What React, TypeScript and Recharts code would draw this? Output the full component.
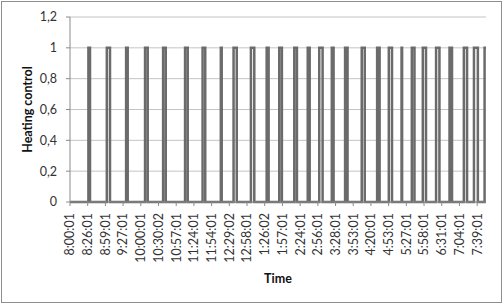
import React from 'react';
import { LineChart, Line, XAxis, YAxis, CartesianGrid, Label } from 'recharts';

// tick labels on the category axis (one every N samples)
const timeLabels = [
  '8:00:01', '8:26:01', '8:59:01', '9:27:01', '10:00:01', '10:30:02', '10:57:01', '11:24:01',
  '11:54:01', '12:29:02', '12:58:01', '1:26:02', '1:57:01', '2:24:01', '2:56:01', '3:28:01',
  '3:53:01', '4:20:01', '4:53:01', '5:27:01', '5:58:01', '6:31:01', '7:04:01', '7:39:01',
];

// heater ON periods, in label-index units along the time axis
const pulseStart = [
  1.04, 2.08, 3.17, 4.24, 5.26, 6.5, 7.49, 8.52, 9.24, 10.22, 11.11, 11.82, 12.67, 13.43,
  14.08, 14.79, 15.54, 16.48, 17.35, 18.01, 18.73, 19.31, 19.93, 20.68, 21.44, 22.25, 22.82, 23.42,
];
const pulseEnd = [
  1.13, 2.26, 3.26, 4.39, 5.41, 6.65, 7.64, 8.57, 9.42, 10.41, 11.22, 11.97, 12.82, 13.54,
  14.27, 14.89, 15.68, 16.65, 17.49, 18.19, 18.76, 19.46, 20.11, 20.87, 21.58, 22.43, 23.04, 23.5,
];
const axisEnd = 23.5;
const yTicks = [0, 0.2, 0.4, 0.6, 0.8, 1, 1.2];

const series: { t: number; v: number }[] = [{ t: 0, v: 0 }];
pulseStart.forEach((s, i) => {
  series.push({ t: s, v: 0 }, { t: s, v: 1 }, { t: pulseEnd[i], v: 1 });
  if (pulseEnd[i] < axisEnd) series.push({ t: pulseEnd[i], v: 0 });
});
if (pulseEnd[pulseEnd.length - 1] < axisEnd) series.push({ t: axisEnd, v: 0 });

const FONT = 'Lato, "Liberation Sans", sans-serif';

const TimeTick = (props: any) => {
  const { x, y, payload } = props;
  return (
    <g transform={`translate(${x},${y + 5})`}>
      <text x={0} y={0} dy="0.35em" transform="rotate(-90)" textAnchor="end"
        fill="#333" fontSize={12.5} fontFamily={FONT}>
        {timeLabels[payload.value]}
      </text>
    </g>
  );
};

const yTitle = (props: any) => {
  const { viewBox } = props;
  const cx = viewBox.x + 27;
  const cy = viewBox.y + viewBox.height / 2;
  return (
    <text x={cx} y={cy} transform={`rotate(-90,${cx},${cy})`} textAnchor="middle"
      dominantBaseline="central" fontSize={12.5} fontWeight="bold" fontFamily={FONT} fill="#111">
      Heating control
    </text>
  );
};

export default function App() {
  return (
    <div style={{ position: 'absolute', left: 0, top: 0, width: 503, height: 304, background: '#fff' }}>
      <div style={{ position: 'absolute', left: 1, top: 1, width: 499, height: 300, border: '1px solid #8e8e8e' }} />
      <LineChart width={503} height={304} data={series}
        margin={{ top: 17, right: 17, bottom: 0, left: 0 }}>
        <CartesianGrid vertical={false} stroke="#c4c4c4" />
        <XAxis dataKey="t" type="number" domain={[0, axisEnd]} ticks={timeLabels.map((_, i) => i)}
          interval={0} height={102} tick={<TimeTick />} tickSize={4} tickMargin={2}
          axisLine={{ stroke: '#8a8a8a' }} tickLine={{ stroke: '#8a8a8a' }}>
          <Label value="Time" position="insideBottom" offset={21}
            style={{ fontSize: 12.5, fontWeight: 'bold', fontFamily: FONT, fill: '#111' }} />
        </XAxis>
        <YAxis type="number" domain={[0, 1.2]} ticks={yTicks} width={70}
          tickFormatter={(v: number) => String(v).replace('.', ',')}
          tick={{ fill: '#333', fontSize: 12.5, fontFamily: FONT }}
          tickSize={4} tickMargin={9}
          axisLine={{ stroke: '#8a8a8a' }} tickLine={{ stroke: '#8a8a8a' }}>
          <Label content={yTitle} />
        </YAxis>
        <Line dataKey="v" type="linear" stroke="#6b6b6b" strokeWidth={2.5} dot={false}
          activeDot={false} isAnimationActive={false} />
      </LineChart>
    </div>
  );
}
